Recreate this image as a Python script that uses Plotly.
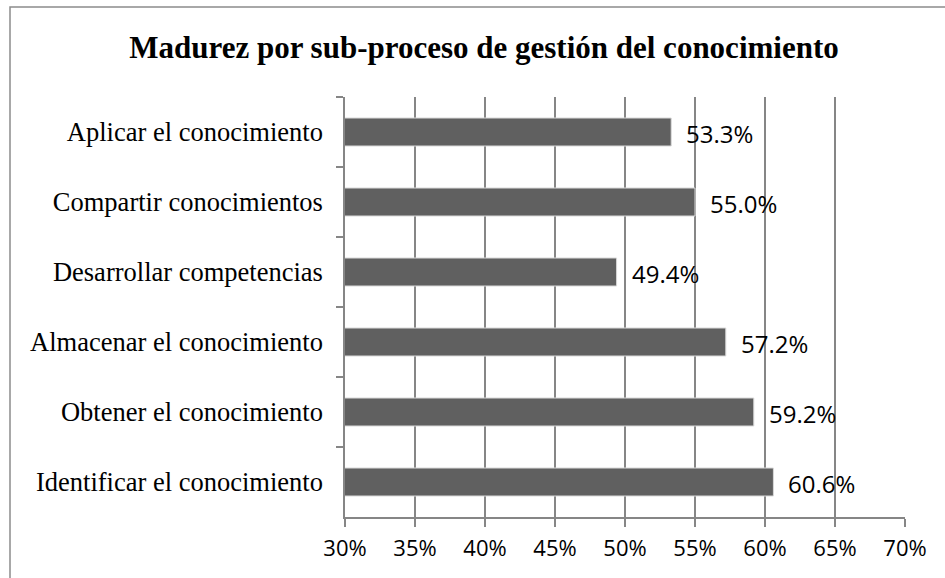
import plotly.graph_objects as go

categories = [
    "Aplicar el conocimiento",
    "Compartir conocimientos",
    "Desarrollar competencias",
    "Almacenar el conocimiento",
    "Obtener el conocimiento",
    "Identificar el conocimiento",
]
values = [0.533, 0.550, 0.494, 0.572, 0.592, 0.606]
value_labels = ["53.3%", "55.0%", "49.4%", "57.2%", "59.2%", "60.6%"]
x_ticks = [0.30, 0.35, 0.40, 0.45, 0.50, 0.55, 0.60, 0.65, 0.70]
x_tick_labels = ["30%", "35%", "40%", "45%", "50%", "55%", "60%", "65%", "70%"]

W, H = 945, 578
L, R, T, B = 345, 40, 97, 61
pw, ph = W - L - R, H - T - B

grid = "#868686"

fig = go.Figure()
fig.add_trace(go.Bar(
    y=categories, x=values, orientation="h",
    marker=dict(color="#606060", line=dict(color="#d9d9d9", width=1)),
    width=0.4, hoverinfo="skip",
))

for c, v, t in zip(categories, values, value_labels):
    fig.add_annotation(x=v, y=c, text=t, showarrow=False, xanchor="left",
                       xshift=13, yshift=-1,
                       font=dict(family="Open Sans", size=24, color="#000000"))

# outer chart border
fig.add_shape(type="rect", xref="paper", yref="paper",
              x0=(10 - L) / pw, x1=(W + 5 - L) / pw,
              y0=(H - B - (H + 5)) / ph, y1=(H - B - 7) / ph,
              line=dict(color="#8c8c8c", width=1.5), fillcolor="rgba(0,0,0,0)", layer="below")

fig.update_layout(
    width=W, height=H,
    margin=dict(l=L, r=R, t=T, b=B),
    paper_bgcolor="white", plot_bgcolor="white",
    showlegend=False,
    title=dict(text="<b>Madurez por sub-proceso de gestión del conocimiento</b>",
               x=484 / W, xanchor="center", y=1 - 47 / H, yanchor="middle",
               yref="container",
               font=dict(family="Liberation Serif", size=31, color="#000000")),
    xaxis=dict(range=[0.30, 0.70], tickvals=x_ticks, ticktext=x_tick_labels,
               showgrid=True, gridcolor=grid, gridwidth=1.5,
               showline=True, linecolor=grid, linewidth=1.5,
               ticks="outside", ticklen=8, tickcolor=grid, tickwidth=1.5,
               zeroline=False, ticklabelstandoff=3,
               tickfont=dict(family="Open Sans", size=22, color="#000000")),
    yaxis=dict(autorange="reversed", showgrid=False,
               showline=True, linecolor=grid, linewidth=1.5,
               ticks="outside", ticklen=7, tickcolor=grid, tickwidth=1.5,
               tickson="boundaries", ticklabelstandoff=15,
               tickfont=dict(family="Liberation Serif", size=26.5, color="#000000")),
)

fig.write_html("out.html")
